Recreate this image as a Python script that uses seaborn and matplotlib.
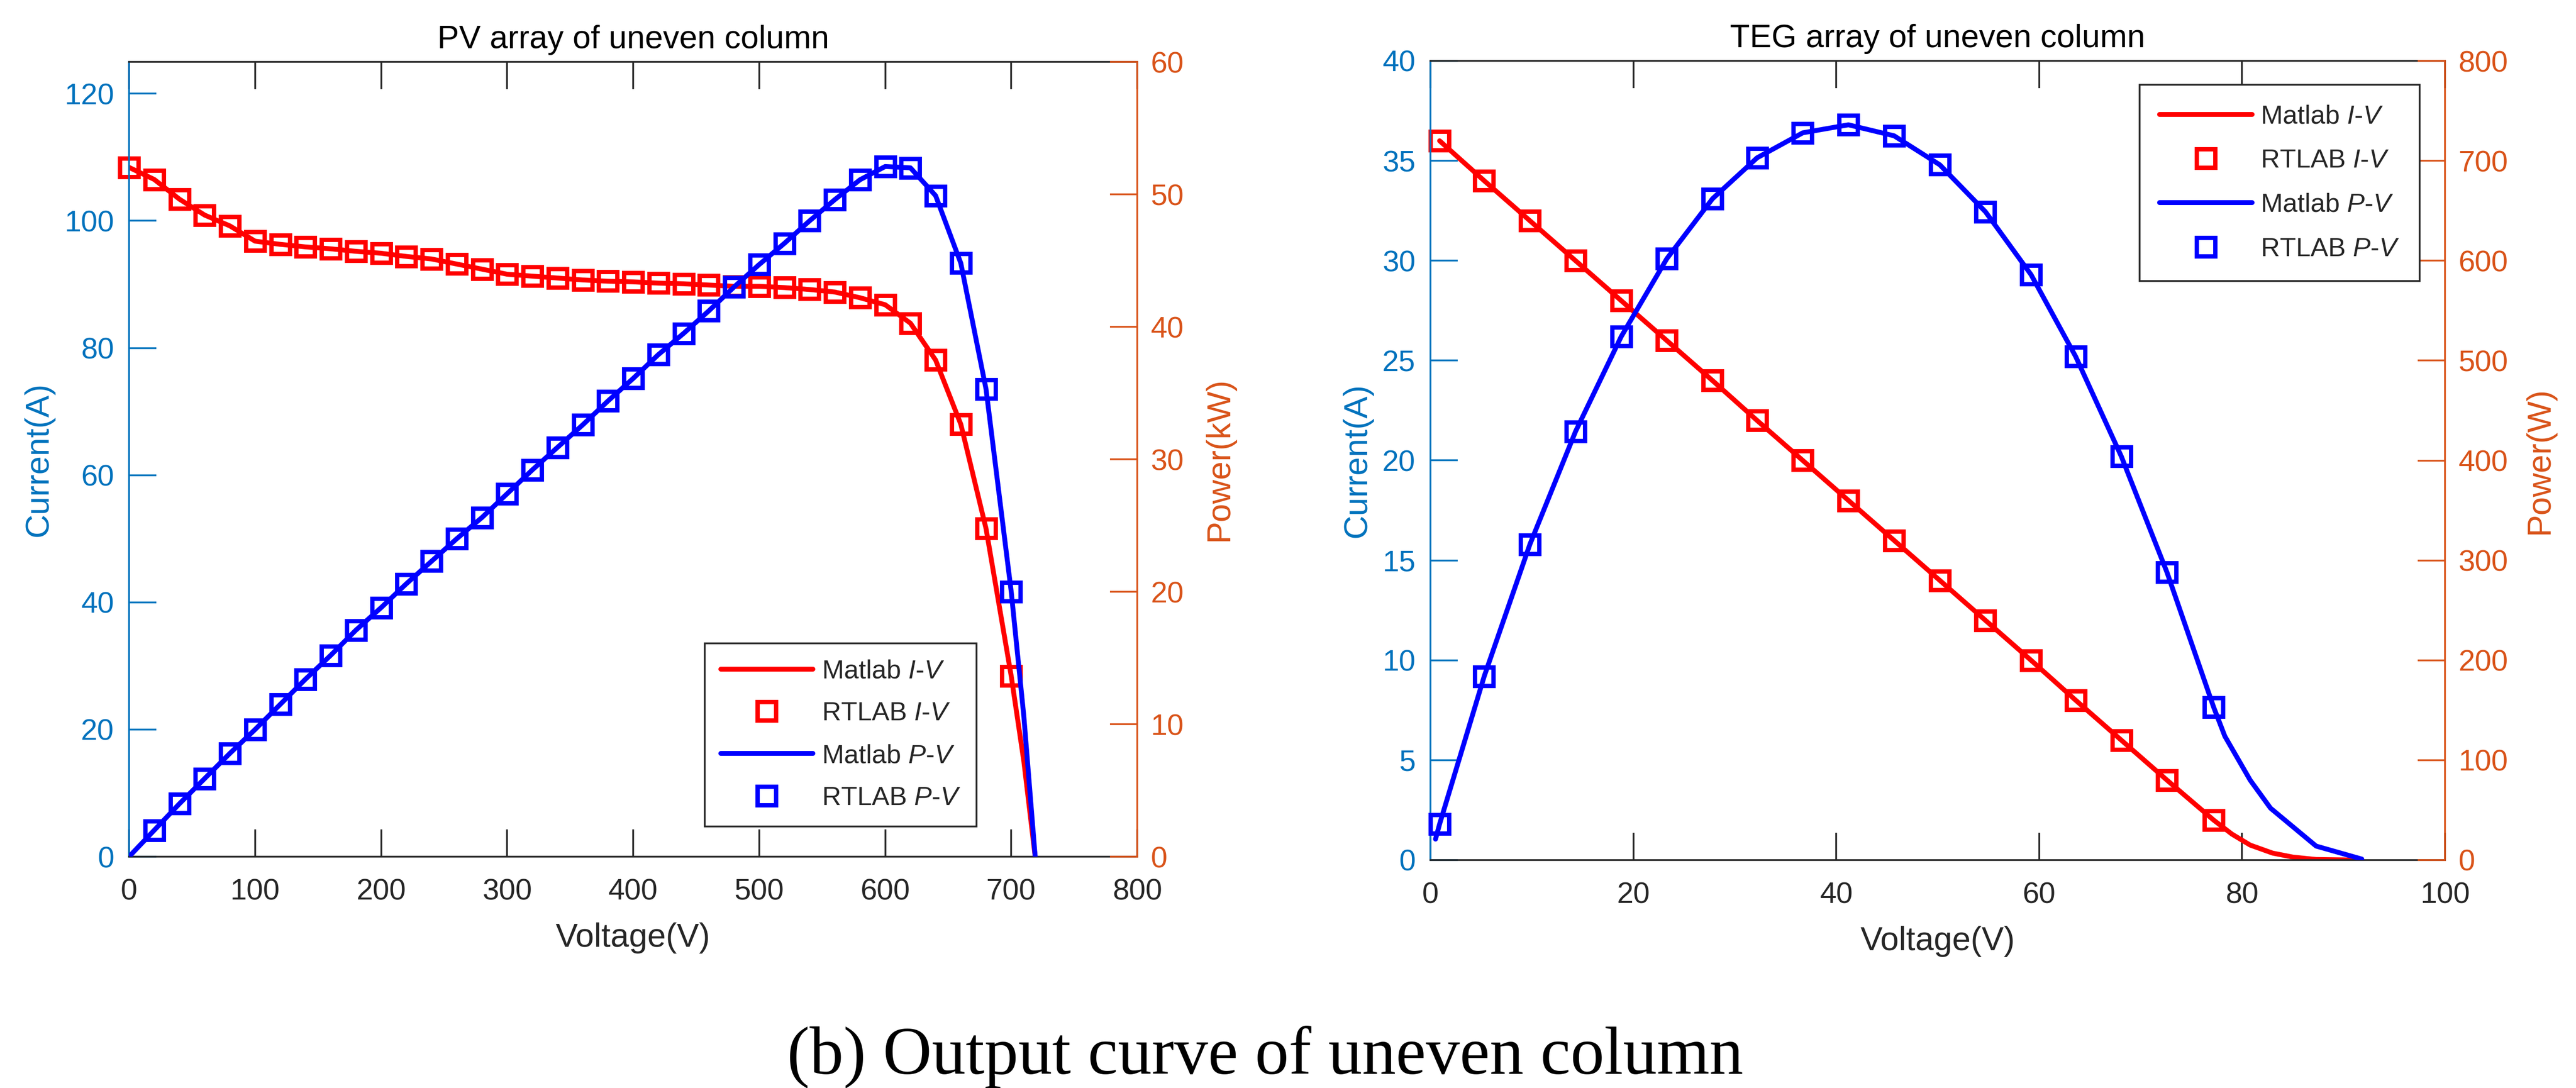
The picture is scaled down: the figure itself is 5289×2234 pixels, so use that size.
import matplotlib
matplotlib.use("Agg")
import matplotlib.pyplot as plt
import seaborn as sns
import numpy as np

# ---------------- data ----------------
# PV array of uneven column
pv_v_markers = [0, 20, 40, 60, 80, 100, 120, 140, 160, 180, 200, 220, 240, 260, 280, 300,
                320, 340, 360, 380, 400, 420, 440, 460, 480, 500, 520, 540, 560, 580, 600,
                620, 640, 660, 680, 700]
pv_i_markers = [108.4, 106.5, 103.4, 100.9, 99.2, 96.8, 96.3, 95.9, 95.6, 95.2, 94.9, 94.4,
                94.0, 93.2, 92.4, 91.6, 91.3, 91.0, 90.7, 90.5, 90.4, 90.2, 90.1, 89.9, 89.7,
                89.7, 89.5, 89.2, 88.8, 87.9, 86.8, 83.9, 78.1, 68.0, 51.6, 28.4]
pv_vp_markers = [20, 40, 60, 80, 100, 120, 140, 160, 180, 200, 220, 240, 260, 280, 300,
                 320, 340, 360, 380, 400, 420, 440, 460, 480, 500, 520, 540, 560, 580, 600,
                 620, 640, 660, 680, 700]
pv_p_markers = [2.0, 4.0, 5.9, 7.8, 9.6, 11.5, 13.4, 15.2, 17.1, 18.8, 20.6, 22.3, 24.0, 25.6,
                27.4, 29.2, 30.9, 32.6, 34.4, 36.1, 37.9, 39.5, 41.2, 43.0, 44.7, 46.3, 48.0,
                49.6, 51.1, 52.1, 52.0, 49.9, 44.8, 35.3, 20.0]
pv_line_v = [0, 20, 40, 60, 80, 100, 120, 140, 160, 180, 200, 220, 240, 260, 280, 300,
             320, 340, 360, 380, 400, 420, 440, 460, 480, 500, 520, 540, 560, 580, 600,
             620, 640, 660, 680, 700, 710, 719]
pv_line_i = [108.4, 106.5, 103.4, 100.9, 99.2, 96.8, 96.3, 95.9, 95.6, 95.2, 94.9, 94.4,
             94.0, 93.2, 92.4, 91.6, 91.3, 91.0, 90.7, 90.5, 90.4, 90.2, 90.1, 89.9, 89.7,
             89.7, 89.5, 89.2, 88.8, 87.9, 86.8, 83.9, 78.1, 68.0, 51.6, 28.4, 15.0, 0.0]
pv_line_p = [0.0, 2.0, 4.0, 5.9, 7.8, 9.6, 11.5, 13.4, 15.2, 17.1, 18.8, 20.6, 22.3, 24.0, 25.6,
             27.4, 29.2, 30.9, 32.6, 34.4, 36.1, 37.9, 39.5, 41.2, 43.0, 44.7, 46.3, 48.0,
             49.6, 51.1, 52.1, 52.0, 49.9, 44.8, 35.3, 20.0, 10.6, 0.0]

# TEG array of uneven column
teg_v_markers = [0.9, 5.3, 9.8, 14.3, 18.8, 23.3, 27.8, 32.2, 36.7, 41.2, 45.7, 50.2,
                 54.7, 59.2, 63.6, 68.1, 72.6, 77.2]
teg_i_markers = [36, 34, 32, 30, 28, 26, 24, 22, 20, 18, 16, 14, 12, 10, 8, 6, 4, 2]
teg_p_markers = [36, 184, 316, 429, 524, 602, 662, 703, 728, 736, 725, 696, 649, 586,
                 504, 404, 288, 153]
teg_iline_v = [0.9, 5.3, 9.8, 14.3, 18.8, 23.3, 27.8, 32.2, 36.7, 41.2, 45.7, 50.2,
               54.7, 59.2, 63.6, 68.1, 72.6, 77.2, 79.0, 80.8, 83.0, 85.0, 87.3, 91.5]
teg_iline_i = [36, 34, 32, 30, 28, 26, 24, 22, 20, 18, 16, 14, 12, 10, 8, 6, 4, 2,
               1.3, 0.75, 0.35, 0.15, 0.03, 0.0]
teg_pline_v = [0.5, 0.9, 5.3, 9.8, 14.3, 18.8, 23.3, 27.8, 32.2, 36.7, 41.2, 45.7, 50.2,
               54.7, 59.2, 63.6, 68.1, 72.6, 77.2, 78.3, 80.8, 82.8, 87.3, 91.8]
teg_pline_p = [21, 36, 184, 316, 429, 524, 602, 662, 703, 728, 736, 725, 696, 649, 586,
               504, 404, 288, 153, 124, 80, 52, 14, 1]

labels = ["Matlab $I$-$V$", "RTLAB $I$-$V$", "Matlab $P$-$V$", "RTLAB $P$-$V$"]
titles = ["PV array of uneven column", "TEG array of uneven column"]
caption = "(b) Output curve of uneven column"

# ---------------- style ----------------
sns.set_theme(style="white")
plt.rcParams["font.family"] = ["Liberation Sans", "DejaVu Sans"]
plt.rcParams["mathtext.fontset"] = "custom"
plt.rcParams["mathtext.rm"] = "Liberation Sans"
plt.rcParams["mathtext.it"] = "Liberation Sans:italic"

BLUE_AX = "#0072BD"
ORANGE_AX = "#D95319"
DARK = "#262626"
TICK_FS = 22
LABEL_FS = 24.5
TITLE_FS = 24
LEG_FS = 19.5
LW = 3.6
MS = 14
MEW = 3.2

fig = plt.figure(figsize=(26.445, 11.17), dpi=200)
W, H = 5289, 2234


def frac_axes(x0, x1, ytop, ybot):
    return [x0 / W, 1 - ybot / H, (x1 - x0) / W, (ybot - ytop) / H]


def style_axes(ax, ax2):
    for sp in ["top", "bottom"]:
        ax.spines[sp].set_color(DARK)
        ax.spines[sp].set_linewidth(1.3)
    ax.spines["left"].set_color(BLUE_AX)
    ax.spines["left"].set_linewidth(1.3)
    ax.spines["right"].set_visible(False)
    for sp in ["top", "bottom", "left"]:
        ax2.spines[sp].set_visible(False)
    ax2.spines["right"].set_color(ORANGE_AX)
    ax2.spines["right"].set_linewidth(1.3)
    ax.tick_params(axis="x", direction="in", top=True, bottom=True, length=20, width=1.3,
                   colors=DARK, labelsize=TICK_FS, pad=16)
    ax.tick_params(axis="y", direction="in", left=True, right=False, length=20, width=1.3,
                   colors=BLUE_AX, labelsize=TICK_FS, pad=11)
    ax2.tick_params(axis="y", direction="in", left=False, right=True, length=20, width=1.3,
                    colors=ORANGE_AX, labelsize=TICK_FS, pad=10)
    ax.grid(False)
    ax2.grid(False)


def draw(ax, ax2, lv, li, mv, mi, plv, plp, mvp, mp):
    sns.lineplot(x=lv, y=li, ax=ax, color="red", lw=LW, estimator=None, sort=False,
                 label=labels[0], legend=False)
    sns.lineplot(x=mv, y=mi, ax=ax, color="red", linestyle="", marker="s", markersize=MS,
                 markerfacecolor="none", markeredgecolor="red", markeredgewidth=MEW,
                 estimator=None, sort=False, label=labels[1], legend=False, clip_on=False)
    sns.lineplot(x=plv, y=plp, ax=ax2, color="blue", lw=LW, estimator=None, sort=False,
                 label=labels[2], legend=False)
    sns.lineplot(x=mvp, y=mp, ax=ax2, color="blue", linestyle="", marker="s", markersize=MS,
                 markerfacecolor="none", markeredgecolor="blue", markeredgewidth=MEW,
                 estimator=None, sort=False, label=labels[3], legend=False, clip_on=False)
    h1, l1 = ax.get_legend_handles_labels()
    h2, l2 = ax2.get_legend_handles_labels()
    return h1 + h2, l1 + l2


def make_legend(ax2, handles, labs, loc, anchor, borderpad, labelspacing):
    leg = ax2.legend(handles, labs, loc=loc, bbox_to_anchor=anchor,
                     bbox_transform=fig.transFigure, fontsize=LEG_FS, frameon=True,
                     fancybox=False, edgecolor=DARK, framealpha=1, borderpad=borderpad,
                     labelspacing=labelspacing, handlelength=3.5, handletextpad=0.33,
                     borderaxespad=0, numpoints=1)
    leg.get_frame().set_linewidth(1.3)
    return leg


# ---- left: PV ----
axL = fig.add_axes(frac_axes(265, 2335, 127, 1759))
axL2 = axL.twinx()
hL, lL = draw(axL, axL2, pv_line_v, pv_line_i, pv_v_markers, pv_i_markers,
              pv_line_v, pv_line_p, pv_vp_markers, pv_p_markers)
axL.set_xlim(0, 800)
axL.set_ylim(0, 125)
axL2.set_ylim(0, 60)
axL.set_xticks(np.arange(0, 801, 100))
axL.set_yticks(np.arange(0, 121, 20))
axL2.set_yticks(np.arange(0, 61, 10))
style_axes(axL, axL2)
axL.set_title(titles[0], fontsize=TITLE_FS, color="black", pad=10)
axL.set_xlabel("Voltage(V)", fontsize=LABEL_FS, color=DARK, labelpad=12)
axL.set_ylabel("Current(A)", fontsize=LABEL_FS, color=BLUE_AX)
axL2.set_ylabel("Power(kW)", fontsize=LABEL_FS, color=ORANGE_AX)
axL.yaxis.set_label_coords(-0.074, 0.5)
axL2.yaxis.set_label_coords(1.066, 0.5)
make_legend(axL2, hL, lL, "upper left", (1447 / W, 1 - 1321 / H), 0.6, 0.68)

# ---- right: TEG ----
axR = fig.add_axes(frac_axes(2937, 5020, 125, 1766))
axR2 = axR.twinx()
hR, lR = draw(axR, axR2, teg_iline_v, teg_iline_i, teg_v_markers, teg_i_markers,
              teg_pline_v, teg_pline_p, teg_v_markers, teg_p_markers)
axR.set_xlim(0, 100)
axR.set_ylim(0, 40)
axR2.set_ylim(0, 800)
axR.set_xticks(np.arange(0, 101, 20))
axR.set_yticks(np.arange(0, 41, 5))
axR2.set_yticks(np.arange(0, 801, 100))
style_axes(axR, axR2)
axR.set_title(titles[1], fontsize=TITLE_FS, color="black", pad=10)
axR.set_xlabel("Voltage(V)", fontsize=LABEL_FS, color=DARK, labelpad=12)
axR.set_ylabel("Current(A)", fontsize=LABEL_FS, color=BLUE_AX)
axR2.set_ylabel("Power(W)", fontsize=LABEL_FS, color=ORANGE_AX)
axR.yaxis.set_label_coords(-0.057, 0.5)
axR2.yaxis.set_label_coords(1.078, 0.5)
make_legend(axR2, hR, lR, "upper right", (4968 / W, 1 - 174 / H), 0.75, 0.75)

fig.text(2598 / W, 1 - 2205 / H, caption, ha="center", va="baseline", fontsize=50,
         family=["Liberation Serif", "DejaVu Serif"], color="black")

fig.savefig("out.png", dpi=200, facecolor="white")
